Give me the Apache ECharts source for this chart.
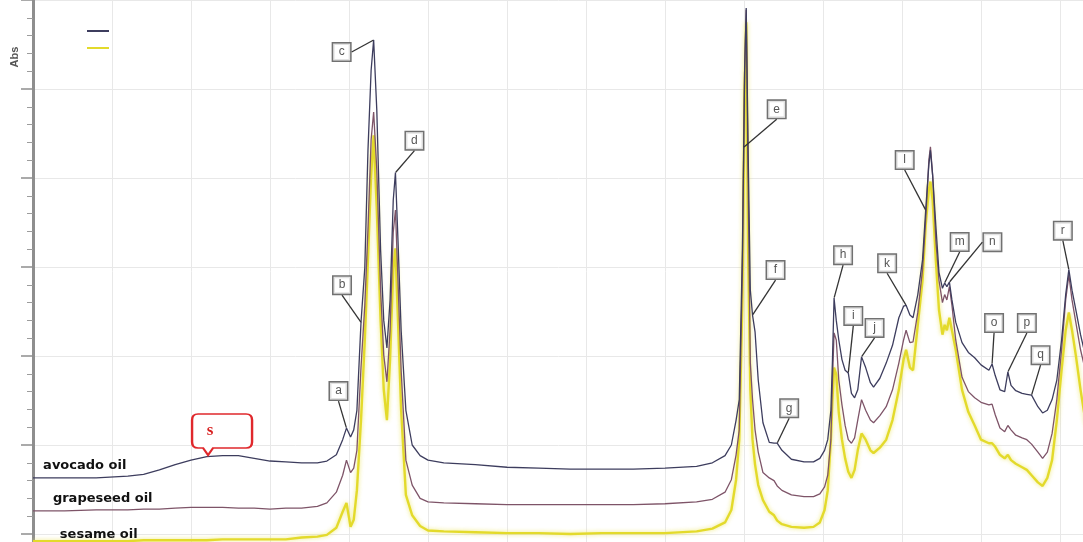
<!DOCTYPE html>
<html>
<head>
<meta charset="utf-8">
<title>FTIR spectra of edible oils</title>
<script src="https://cdn.jsdelivr.net/npm/echarts@6/dist/echarts.min.js"></script>
<style>
  html, body { margin: 0; padding: 0; background: #fff; }
  #chart { width: 1083px; height: 542px; }
</style>
</head>
<body>
<div id="chart"></div>
<script>
// Wavenumber sampling (cm-1), shared by all three spectra
const wavenumbers = [
  4000,3900,3800,3700,3650,3600,3550,3500,3450,3400,
  3350,3300,3250,3200,3150,3100,3070,3040,3020,3008,
  2995,2985,2975,2962,2950,2940,2930,2922,2912,2900,
  2890,2880,2870,2860,2853,2845,2835,2820,2800,2775,
  2750,2700,2600,2500,2400,2300,2200,2100,2000,1900,
  1850,1810,1790,1775,1765,1755,1748,1743,1737,1730,
  1723,1715,1705,1690,1670,1655,1645,1630,1600,1560,
  1530,1510,1495,1485,1475,1470,1465,1458,1450,1440,
  1430,1420,1410,1400,1390,1378,1365,1350,1340,1320,
  1300,1280,1260,1245,1237,1225,1215,1200,1185,1175,
  1165,1160,1153,1143,1133,1122,1115,1108,1100,1092,
  1080,1060,1040,1020,1000,975,965,955,940,925,
  915,905,890,870,855,840,820,805,790,775,
  760,745,732,722,712,700,685,670,650
];

// Absorbance (offset display)
const avocado = [
  0.163,0.163,0.163,0.165,0.167,0.172,0.178,0.183,0.187,0.188,
  0.188,0.185,0.182,0.181,0.180,0.180,0.182,0.189,0.206,0.219,
  0.209,0.217,0.239,0.338,0.399,0.531,0.621,0.655,0.576,0.419,
  0.340,0.309,0.363,0.475,0.506,0.430,0.329,0.239,0.200,0.188,
  0.183,0.180,0.178,0.175,0.174,0.173,0.173,0.173,0.174,0.176,
  0.180,0.188,0.200,0.228,0.251,0.419,0.621,0.691,0.531,0.374,
  0.346,0.327,0.273,0.225,0.203,0.202,0.202,0.194,0.184,0.181,
  0.181,0.185,0.194,0.206,0.239,0.296,0.365,0.340,0.318,0.296,
  0.284,0.281,0.258,0.253,0.262,0.299,0.287,0.270,0.265,0.275,
  0.292,0.312,0.343,0.356,0.357,0.346,0.343,0.369,0.408,0.464,
  0.515,0.531,0.503,0.447,0.394,0.376,0.382,0.378,0.383,0.363,
  0.338,0.315,0.304,0.298,0.290,0.284,0.291,0.278,0.262,0.260,
  0.282,0.267,0.261,0.258,0.257,0.256,0.243,0.236,0.239,0.251,
  0.273,0.318,0.369,0.397,0.374,0.352,0.324,0.301,0.284
];

const grapeseed = [
  0.126,0.126,0.127,0.127,0.128,0.128,0.129,0.130,0.130,0.130,
  0.129,0.129,0.128,0.129,0.129,0.131,0.135,0.147,0.166,0.183,
  0.169,0.174,0.194,0.287,0.357,0.442,0.543,0.574,0.509,0.374,
  0.301,0.271,0.329,0.439,0.464,0.385,0.284,0.183,0.155,0.140,
  0.136,0.135,0.134,0.133,0.133,0.133,0.133,0.133,0.134,0.136,
  0.139,0.147,0.161,0.189,0.217,0.397,0.621,0.689,0.498,0.292,
  0.251,0.217,0.192,0.169,0.163,0.160,0.154,0.149,0.144,0.142,
  0.142,0.145,0.153,0.166,0.206,0.273,0.326,0.318,0.273,0.245,
  0.222,0.206,0.202,0.208,0.228,0.251,0.239,0.228,0.225,0.233,
  0.243,0.262,0.292,0.318,0.329,0.315,0.316,0.349,0.397,0.453,
  0.520,0.535,0.503,0.430,0.385,0.360,0.369,0.363,0.378,0.357,
  0.318,0.276,0.260,0.253,0.248,0.245,0.246,0.234,0.219,0.215,
  0.222,0.217,0.211,0.208,0.206,0.201,0.192,0.185,0.192,0.213,
  0.251,0.307,0.363,0.391,0.363,0.338,0.307,0.284,0.267
];

const sesame = [
  0.092,0.092,0.092,0.092,0.093,0.093,0.093,0.093,0.093,0.094,
  0.094,0.094,0.094,0.094,0.096,0.097,0.099,0.107,0.125,0.135,
  0.108,0.116,0.149,0.228,0.318,0.408,0.503,0.548,0.464,0.340,
  0.262,0.228,0.296,0.397,0.421,0.340,0.239,0.144,0.121,0.109,
  0.104,0.103,0.102,0.101,0.101,0.100,0.101,0.101,0.101,0.103,
  0.106,0.113,0.127,0.161,0.206,0.363,0.599,0.675,0.419,0.262,
  0.206,0.178,0.155,0.138,0.125,0.121,0.115,0.111,0.108,0.107,
  0.108,0.113,0.127,0.149,0.206,0.251,0.287,0.279,0.236,0.206,
  0.185,0.170,0.163,0.172,0.194,0.213,0.206,0.194,0.191,0.197,
  0.206,0.228,0.262,0.296,0.307,0.287,0.284,0.335,0.385,0.447,
  0.487,0.496,0.475,0.408,0.352,0.324,0.335,0.329,0.343,0.329,
  0.307,0.262,0.237,0.222,0.206,0.202,0.202,0.198,0.189,0.185,
  0.189,0.183,0.179,0.175,0.172,0.166,0.158,0.154,0.163,0.183,
  0.228,0.284,0.329,0.349,0.329,0.301,0.262,0.228,0.206
];

// Band labels, placed on the avocado oil trace
const bandLetters     = ['a','b','c','d','e','f','g','h','i','j','k','l','m','n','o','p','q','r'];
const bandWavenumbers = [3008,2962,2922,2853,1751,1723,1645,1465,1420,1378,1237,1175,1115,1100,965,915,840,722];
const broadBandLetter = 's';
const broadBandWavenumber = 3446;

const seriesNames = ['avocado oil', 'grapeseed oil', 'sesame oil'];

// ---- layout / styling ----
const COLORS = { avocado: '#3d3d5e', grapeseed: '#7e5468', sesame: '#e3da2b' };
// callout box offset (px) from the band point
const CALLOUT_OFFSETS = [
  [-8,-37],[-19,-37],[-32,12],[19,-32],[33,-38],[23,-45],[12,-35],[9,-43],[5,-57],
  [13,-29],[-19,-42],[-21,-50],[15,-41],[43,-40],[2,-41],[19,-49],[9,-40],[-6,-39]
];
// where each trace name sits (wavenumber of the text start, vertical shift in px)
const NAME_TAGS = [[3968, -12], [3937, -12], [3915, -6]];

function valueAt(values, w) {
  for (let i = 0; i < wavenumbers.length - 1; i++) {
    const w0 = wavenumbers[i], w1 = wavenumbers[i + 1];
    if (w <= w0 && w >= w1) {
      const t = (w0 - w) / (w0 - w1);
      return values[i] + t * (values[i + 1] - values[i]);
    }
  }
  return values[values.length - 1];
}

function pairs(values) {
  return wavenumbers.map((w, i) => [w, values[i]]);
}

function nameTag(values, idx) {
  const w = NAME_TAGS[idx][0];
  return {
    silent: true,
    symbol: 'circle',
    symbolSize: 0,
    label: {
      show: true,
      position: 'right',
      distance: 0,
      offset: [0, NAME_TAGS[idx][1]],
      formatter: seriesNames[idx],
      color: '#111',
      fontFamily: 'DejaVu Sans',
      fontWeight: 'bold',
      fontSize: 13
    },
    data: [{ coord: [w, valueAt(values, w)] }]
  };
}

const avocadoMarks = nameTag(avocado, 0);
avocadoMarks.data.push({
  coord: [broadBandWavenumber, valueAt(avocado, broadBandWavenumber)],
  symbol: 'path://M6,0H54Q60,0,60,6V28Q60,34,54,34H21L16,41L11,34H6Q0,34,0,28V6Q0,0,6,0Z',
  symbolSize: [60, 41],
  symbolKeepAspect: false,
  symbolOffset: [14, -22],
  itemStyle: { color: '#fff', borderColor: '#e0282c', borderWidth: 2 },
  label: {
    show: true,
    position: 'inside',
    formatter: broadBandLetter,
    offset: [-12, -4],
    color: '#d81f1f',
    fontFamily: 'Liberation Serif',
    fontWeight: 'bold',
    fontSize: 17
  }
});

const chart = echarts.init(document.getElementById('chart'), null, { renderer: 'canvas' });

chart.setOption({
  animation: false,
  backgroundColor: '#fff',
  // the plot area runs past the right and bottom edges of the canvas
  grid: { left: 33, top: 0, width: 1106, height: 623, outerBoundsMode: 'none', containLabel: false },
  xAxis: {
    type: 'value',
    min: 500,
    max: 4000,
    interval: 250,
    inverse: true,
    axisLine: { show: false },
    axisTick: { show: false },
    axisLabel: { show: false },
    splitLine: { show: true, lineStyle: { color: '#e8e8e8', width: 1 } }
  },
  yAxis: {
    type: 'value',
    min: 0,
    max: 0.7,
    interval: 0.1,
    axisLine: { show: true, lineStyle: { color: '#8e8e8e', width: 3 } },
    axisTick: { show: true, length: 12, lineStyle: { color: '#8e8e8e', width: 1.5 } },
    minorTick: { show: true, splitNumber: 5, length: 6, lineStyle: { color: '#9c9c9c', width: 1 } },
    axisLabel: { show: false },
    splitLine: { show: true, lineStyle: { color: '#e8e8e8', width: 1 } }
  },
  legend: {
    left: 82,
    top: 25,
    orient: 'vertical',
    icon: 'rect',
    itemWidth: 22,
    itemHeight: 2,
    itemGap: 15,
    selectedMode: false,
    data: ['avocado oil', 'sesame oil'],
    formatter: () => '',
    textStyle: { fontSize: 12 }
  },
  graphic: [{
    type: 'text',
    x: 15,
    y: 57,
    rotation: Math.PI / 2,
    silent: true,
    style: {
      text: 'Abs',
      fill: '#555',
      font: 'bold 11px "Liberation Sans"',
      align: 'center',
      verticalAlign: 'middle'
    }
  }],
  series: [
    {
      name: seriesNames[2],
      type: 'line',
      data: pairs(sesame),
      showSymbol: false,
      symbol: 'none',
      color: COLORS.sesame,
      lineStyle: { color: COLORS.sesame, width: 2.4, shadowBlur: 4, shadowColor: 'rgba(235,228,90,0.85)' },
      silent: true,
      z: 2,
      markPoint: nameTag(sesame, 2)
    },
    {
      name: seriesNames[1],
      type: 'line',
      data: pairs(grapeseed),
      showSymbol: false,
      symbol: 'none',
      color: COLORS.grapeseed,
      lineStyle: { color: COLORS.grapeseed, width: 1.3 },
      silent: true,
      z: 3,
      markPoint: nameTag(grapeseed, 1)
    },
    {
      name: seriesNames[0],
      type: 'line',
      data: pairs(avocado),
      showSymbol: false,
      symbol: 'none',
      color: COLORS.avocado,
      lineStyle: { color: COLORS.avocado, width: 1.3 },
      silent: true,
      z: 4,
      markPoint: avocadoMarks
    },
    {
      name: 'bands',
      type: 'scatter',
      silent: true,
      z: 6,
      symbol: 'circle',
      symbolSize: 1,
      itemStyle: { color: COLORS.avocado },
      data: bandLetters.map((t, i) => ({
        name: t,
        value: [bandWavenumbers[i], valueAt(avocado, bandWavenumbers[i])]
      })),
      label: {
        show: true,
        position: 'inside',
        formatter: '{b}',
        color: '#2a2a2a',
        fontFamily: 'Liberation Sans',
        fontSize: 12,
        backgroundColor: '#fff',
        borderColor: '#4d4d4d',
        borderWidth: 1.5,
        padding: [2, 4, 2, 4],
        width: 9,
        height: 13,
        lineHeight: 13,
        align: 'center',
        verticalAlign: 'middle'
      },
      labelLayout: (p) => ({ dx: CALLOUT_OFFSETS[p.dataIndex][0], dy: CALLOUT_OFFSETS[p.dataIndex][1] }),
      labelLine: { show: true, lineStyle: { color: '#333', width: 1.3 } }
    }
  ]
});
</script>
</body>
</html>
